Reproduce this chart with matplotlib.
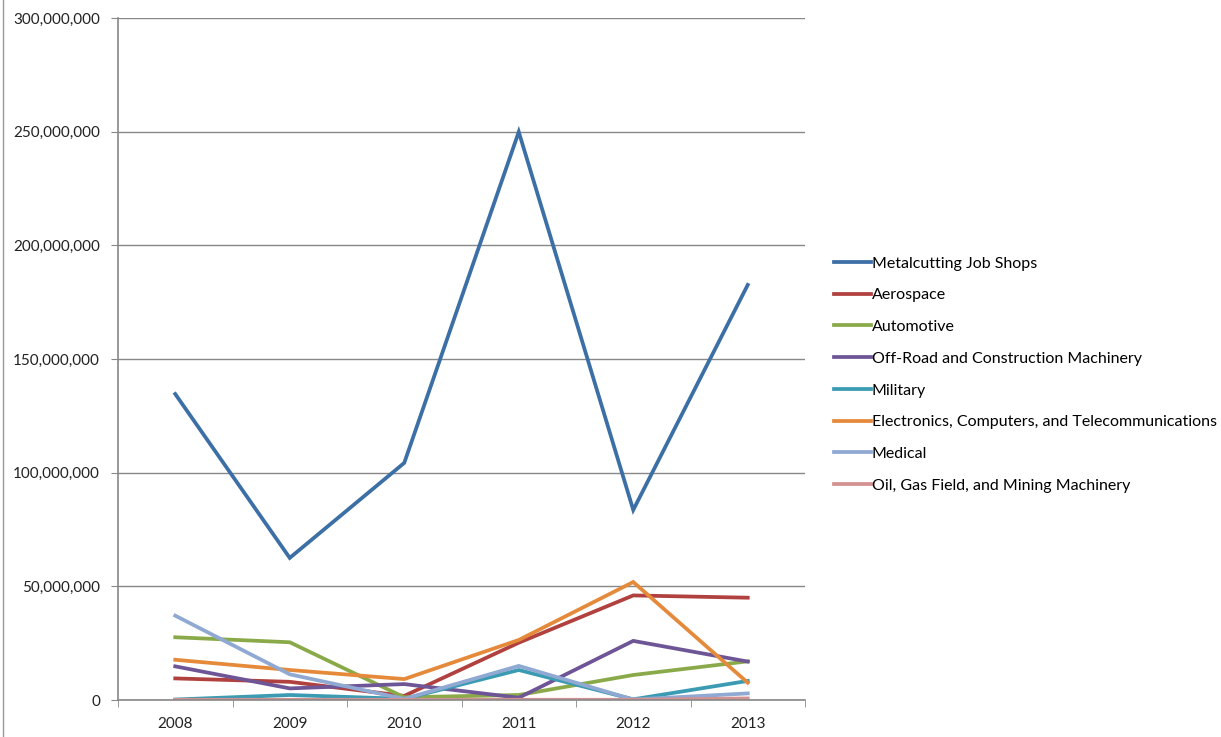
import matplotlib
matplotlib.use('Agg')
import matplotlib.pyplot as plt
import numpy as np
from matplotlib.ticker import FuncFormatter, FixedLocator
from matplotlib.lines import Line2D

plt.rcParams['font.family'] = ['Lato', 'DejaVu Sans']

# Years on the category axis
anos = ['2008', '2009', '2010', '2011', '2012', '2013']

# Series values (dollars)
metalcutting = [134.6e6, 62.5e6, 104.3e6, 249.9e6, 83.6e6, 182.6e6]
aerospace = [9.5e6, 8.0e6, 1.8e6, 25.2e6, 46.0e6, 45.0e6]
automotive = [27.6e6, 25.4e6, 1.2e6, 2.2e6, 11.0e6, 17.0e6]
offroad = [14.8e6, 5.1e6, 7.0e6, 1.0e6, 26.0e6, 16.9e6]
military = [0.2e6, 2.2e6, 0.5e6, 13.2e6, 0.3e6, 8.4e6]
electronics = [17.7e6, 13.2e6, 9.2e6, 26.4e6, 51.9e6, 7.6e6]
medical = [37.1e6, 11.3e6, 0.5e6, 15.0e6, 0.2e6, 2.9e6]
oilgas = [0.1e6, 0.1e6, 0.1e6, 0.1e6, 0.1e6, 0.7e6]

nomes = ["Metalcutting Job Shops", "Aerospace", "Automotive",
         "Off-Road and Construction Machinery", "Military",
         "Electronics, Computers, and Telecommunications", "Medical",
         "Oil, Gas Field, and Mining Machinery"]
series = [metalcutting, aerospace, automotive, offroad, military,
          electronics, medical, oilgas]
cores = ['#3B6FA6', '#B0413E', '#8AAA4A', '#6E5596', '#3A9BB3',
         '#E58A3A', '#8FA9D2', '#D39191']

fig = plt.figure(figsize=(12.21, 7.37), dpi=100)
ax = fig.add_axes([118 / 1221, 1 - 700 / 737, (805 - 118) / 1221, (700 - 18) / 737])

x = np.arange(len(anos))
for vals, nome, cor in zip(series, nomes, cores):
    ax.plot(x, vals, color=cor, lw=2.7, label=nome, solid_joinstyle='miter')

ax.set_xlim(-0.5, len(anos) - 0.5)
ax.set_ylim(0, 300e6)
ax.set_yticks(np.arange(0, 300e6 + 1, 50e6))
ax.yaxis.set_major_formatter(FuncFormatter(lambda v, p: f'{int(v):,}'))
ax.set_xticks(x)
ax.set_xticklabels(anos)
ax.xaxis.set_minor_locator(FixedLocator(np.arange(-0.5, len(anos), 1.0)))
ax.tick_params(axis='x', which='major', length=0, pad=12, labelsize=11, colors='#222222')
ax.tick_params(axis='x', which='minor', length=5, color='#888888', direction='out')
ax.tick_params(axis='y', length=5, color='#888888', labelsize=11, labelcolor='#222222', pad=8)

ax.grid(axis='y', color='#888888', lw=1)
ax.set_axisbelow(True)
for s in ['top', 'right']:
    ax.spines[s].set_visible(False)
ax.spines['left'].set_color('#888888')
ax.spines['bottom'].set_color('#888888')
ax.spines['left'].set_linewidth(1.2)
ax.spines['bottom'].set_linewidth(1.2)

leg = fig.legend(loc='upper left', bbox_to_anchor=(828 / 1221, 1 - 250 / 737),
                 frameon=False, fontsize=11.5, handlelength=2.3, handletextpad=0.05,
                 labelspacing=1.1, borderaxespad=0)

# borda esquerda da figura
fig.add_artist(Line2D([3 / 1221, 3 / 1221], [0, 1], color='#999999', lw=1))

plt.savefig('out.png', dpi=100)
